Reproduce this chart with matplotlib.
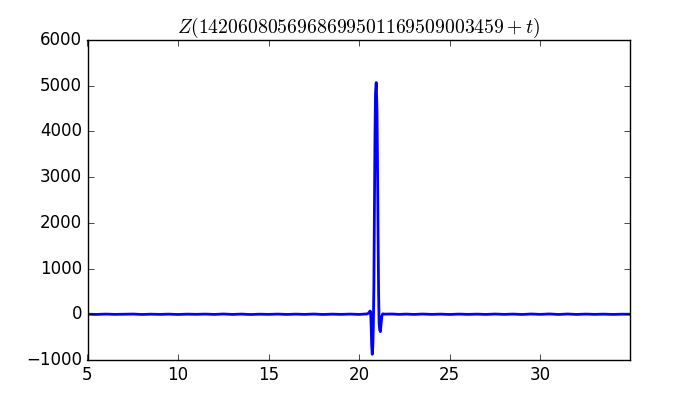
import matplotlib
matplotlib.use("Agg")
import matplotlib.pyplot as plt

# background segment before the spike (t, Z)
t_left = [5.0, 5.5, 6.0, 6.5, 7.0, 7.5, 8.0, 8.5, 9.0, 9.5, 10.0, 10.5, 11.0, 11.5,
          12.0, 12.5, 13.0, 13.5, 14.0, 14.5, 15.0, 15.5, 16.0, 16.5, 17.0, 17.5,
          18.0, 18.5, 19.0, 19.5, 20.0, 20.3]
z_left = [2, -3, 4, -2, 1, 5, -4, 2, -2, 3, -4, 3, -1, 4,
          -3, 6, -3, 4, -5, 2, -2, 4, -3, 3, -2, 5,
          -4, 3, -2, 4, -3, 5]

# spike region
t_mid = [20.45, 20.50, 20.55, 20.60, 20.63, 20.66, 20.69, 20.72, 20.75, 20.78,
         20.81, 20.84, 20.87, 20.90, 20.94, 20.98, 21.01, 21.04, 21.07, 21.10,
         21.13, 21.17, 21.21, 21.25, 21.30]
z_mid = [8, 20, 45, 70, 55, -250, -700, -875, -720, -250,
         600, 2300, 3900, 4850, 5070, 4500, 3300, 1800, 500, -200,
         -340, -380, -200, -40, 10]

# background segment after the spike
t_right = [21.4, 21.8, 22.2, 22.6, 23.0, 23.5, 24.0, 24.5, 25.0, 25.5, 26.0, 26.5,
           27.0, 27.5, 28.0, 28.5, 29.0, 29.5, 30.0, 30.5, 31.0, 31.5, 32.0, 32.5,
           33.0, 33.5, 34.0, 34.5, 34.95]
z_right = [3, 6, -2, 4, -3, 5, -2, 3, -4, 4, -2, 3,
           -3, 5, -2, 4, -4, 6, -2, 7, -4, 6, -3, 4,
           -2, 3, -3, 2, 1]

t = t_left + t_mid + t_right
z = z_left + z_mid + z_right

plt.style.use("classic")
plt.rcParams["mathtext.fontset"] = "cm"

fig = plt.figure(figsize=(7, 4), dpi=100)
ax = fig.add_subplot(111)
ax.plot(t, z, color="b", linewidth=2)
ax.set_xlim(min(t), max(t))
ax.set_ylim(-1000, 6000)
ax.set_title(r"$Z(1420608056968699501169509003459+t)$", fontsize=14.2)
fig.savefig("out.png", dpi=100)
